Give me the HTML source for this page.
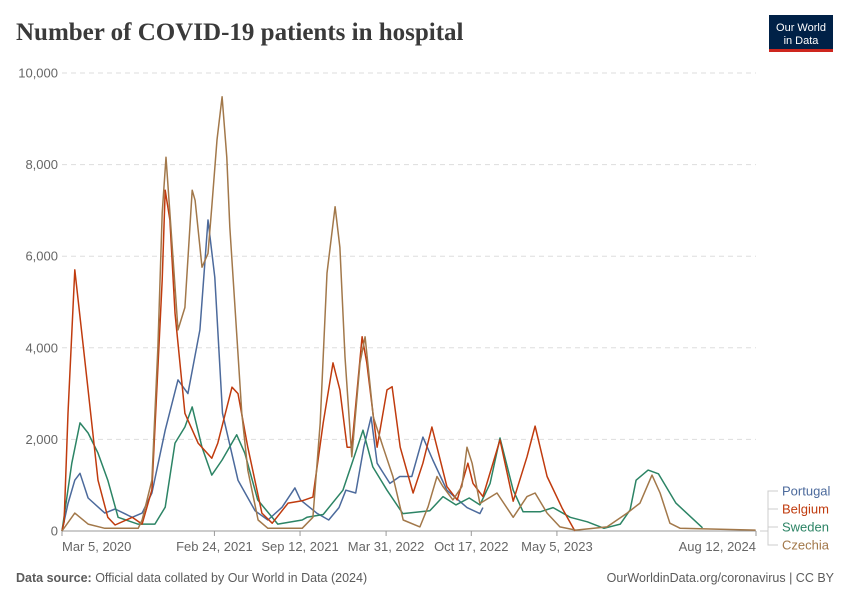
<!DOCTYPE html>
<html><head><meta charset="utf-8"><style>
body{margin:0;background:#fff;width:850px;height:600px;overflow:hidden;font-family:"Liberation Sans",sans-serif}
</style></head><body>
<svg id="chart" width="850" height="600" xmlns="http://www.w3.org/2000/svg">
<text x="16" y="40" font-family="Liberation Serif,serif" font-weight="bold" font-size="25" fill="#3a3a3a">Number of COVID-19 patients in hospital</text>
<g>
<rect x="769" y="15" width="64" height="37" fill="#002147"/>
<rect x="769" y="49" width="64" height="3" fill="#ce261e"/>
<text x="801" y="31" text-anchor="middle" font-size="11" fill="#fff">Our World</text>
<text x="801" y="44" text-anchor="middle" font-size="11" fill="#fff">in Data</text>
</g>
<g id="grid"></g><g id="axes"></g><g id="series"></g><g id="legend"></g>
<text x="16" y="582" font-size="12.5" fill="#5b5b5b"><tspan font-weight="bold">Data source:</tspan> Official data collated by Our World in Data (2024)</text>
<text x="834" y="582" text-anchor="end" font-size="12.5" fill="#5b5b5b">OurWorldinData.org/coronavirus | CC BY</text>
</svg>
<script>
const yTicks=[0,2000,4000,6000,8000,10000];
const xTickDays=[0,356,556,757,956,1156,1621];
const xTickLabels=["Mar 5, 2020","Feb 24, 2021","Sep 12, 2021","Mar 31, 2022","Oct 17, 2022","May 5, 2023","Aug 12, 2024"];
const seriesNames=["Portugal","Sweden","Belgium","Czechia"];
const portugalDays=[0,14,30,42,61,100,124,164,187,210,241,271,294,322,341,357,375,411,451,481,514,544,557,595,623,647,663,686,705,722,736,766,789,817,843,866,899,946,976,983];
const portugalVals=[0,600,1110,1260,720,390,480,300,390,830,2200,3300,3000,4390,6790,5540,2570,1110,440,240,520,940,680,390,240,510,890,830,1830,2490,1480,1040,1190,1190,2050,1550,890,510,380,510];
const swedenDays=[0,23,42,61,84,107,131,177,217,241,264,287,304,327,350,374,408,427,457,504,561,572,610,656,680,703,726,759,796,859,890,920,951,976,1000,1023,1054,1077,1117,1147,1187,1227,1266,1304,1327,1341,1369,1393,1434,1496];
const swedenVals=[0,1480,2360,2140,1700,1110,300,150,150,520,1920,2270,2710,1830,1220,1550,2100,1700,680,150,240,300,360,890,1550,2200,1400,890,380,440,750,570,720,570,1040,2030,890,420,420,510,300,200,60,150,460,1110,1330,1250,610,70];
const belgiumDays=[0,5,14,30,61,84,107,124,164,187,210,234,241,252,264,287,318,350,364,397,411,434,467,491,528,561,586,610,633,649,666,677,701,712,736,759,771,790,820,843,864,876,899,923,948,960,983,1023,1054,1086,1105,1133,1168,1198];
const belgiumVals=[0,200,2570,5700,3080,1110,300,130,300,150,900,5480,7440,6790,4760,2570,1920,1590,1920,3140,3000,1830,390,170,610,660,740,2360,3670,3080,1830,1830,4240,3670,1830,3080,3150,1830,830,1480,2270,1830,970,680,1480,1040,750,1990,650,1620,2290,1190,500,0];
const czechiaDays=[0,30,61,100,178,187,210,224,234,243,252,271,287,304,311,327,341,350,362,374,385,392,409,420,434,458,481,561,586,603,619,638,649,661,677,696,708,727,750,773,797,836,855,876,890,913,934,946,958,976,1016,1054,1086,1105,1133,1163,1200,1273,1320,1350,1378,1397,1420,1444,1620];
const czechiaVals=[0,390,150,60,60,240,1110,4020,6940,8160,6940,4390,4880,7440,7220,5760,6060,7080,8540,9480,8160,6640,4170,2570,1330,240,60,60,300,2360,5630,7080,6190,3800,1620,3670,4240,2490,1830,1190,240,90,530,1190,970,680,970,1830,1480,600,830,300,750,830,390,90,20,90,390,610,1220,830,170,60,20];
const colors={Portugal:"#4c6a9c",Sweden:"#2c8465",Belgium:"#c03b0e",Czechia:"#a2784a"};
const X0=62,X1=756,D1=1621,Y0=531,Y1=73;
const xS=d=>X0+(X1-X0)*d/D1;
const yS=v=>Y0-(Y0-Y1)*v/10000;
const NS="http://www.w3.org/2000/svg";
function mk(t,a,p){const e=document.createElementNS(NS,t);for(const k in a)e.setAttribute(k,a[k]);p.appendChild(e);return e;}
const grid=document.getElementById('grid'),axes=document.getElementById('axes'),ser=document.getElementById('series'),leg=document.getElementById('legend');
yTicks.forEach(v=>{
 if(v>0){const l=mk('line',{x1:X0,x2:X1,y1:yS(v),y2:yS(v),stroke:'#ddd','stroke-dasharray':'5,4'},grid);
 
 }
 const t=mk('text',{x:58,y:yS(v)+4.5,'text-anchor':'end','font-size':'13',fill:'#666'},axes);t.textContent=v.toLocaleString('en-US');
 
 
});
const base=mk('line',{x1:X0,x2:X1,y1:Y0,y2:Y0,stroke:'#999'},axes);


xTickDays.forEach((d,i)=>{
 mk('line',{x1:xS(d),x2:xS(d),y1:Y0,y2:Y0+5,stroke:'#999'},axes);
 const anchor=i==0?'start':(i==xTickDays.length-1?'end':'middle');
 const t=mk('text',{x:xS(d),y:551,'text-anchor':anchor,'font-size':'13',fill:'#666'},axes);t.textContent=xTickLabels[i];
 
 
});
const data={Portugal:[portugalDays,portugalVals],Sweden:[swedenDays,swedenVals],Belgium:[belgiumDays,belgiumVals],Czechia:[czechiaDays,czechiaVals]};
seriesNames.forEach(n=>{
 const [ds,vs]=data[n];
 const p=mk('path',{d:ds.map((d,i)=>(i?'L':'M')+xS(d).toFixed(1)+','+yS(vs[i]).toFixed(1)).join(''),fill:'none',stroke:colors[n],'stroke-width':'1.5','stroke-linejoin':'round'},ser);
 
 
});
const legY={Portugal:491,Belgium:509,Sweden:527,Czechia:545};
["Portugal","Belgium","Sweden","Czechia"].forEach(n=>{
 const t=mk('text',{x:782,y:legY[n]+4.5,'font-size':'13',fill:colors[n]},leg);t.textContent=n;
 
 
 mk('path',{d:`M760,531 L768,531 L768,${legY[n]} L778,${legY[n]}`,fill:'none',stroke:'#ccc','stroke-width':'1'},leg);
});
</script>
</body></html>
